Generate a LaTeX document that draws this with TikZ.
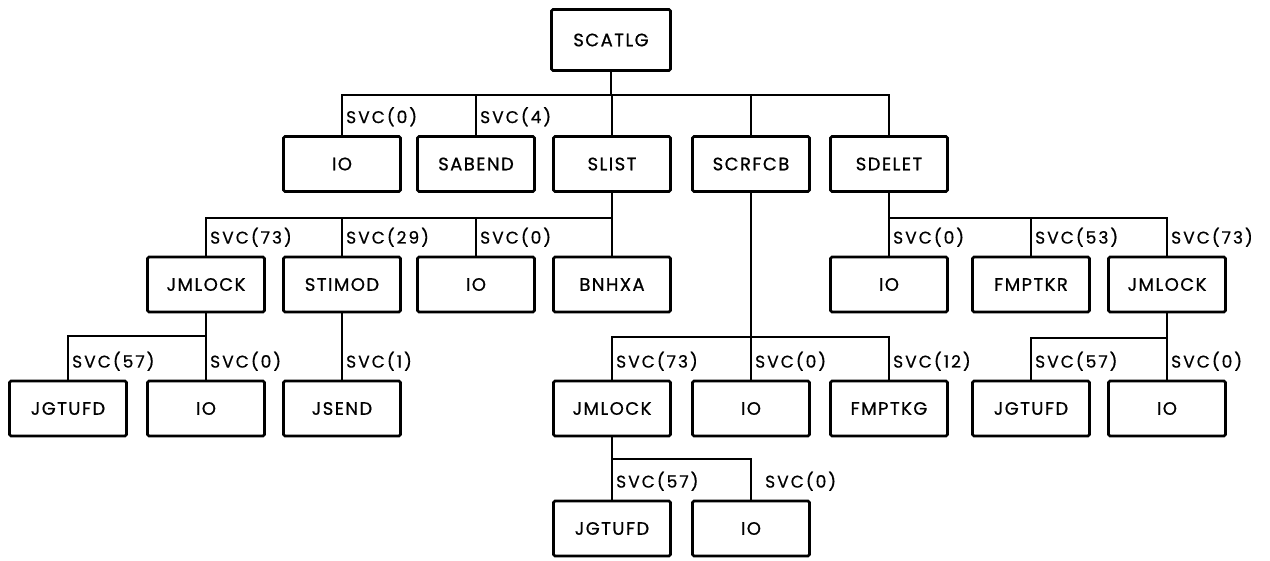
\documentclass[tikz,border=0pt]{standalone}
\usepackage{fontspec}
\newfontfamily\diagfont[LetterSpace=8,FakeBold=0.8]{Poppins}
\newfontfamily\labfont[LetterSpace=12,FakeBold=0.6]{Poppins}
\begin{document}
\begin{tikzpicture}[x=1pt,y=-1pt,
  box/.style={draw, line width=2.8pt, rounded corners=1.5pt, minimum width=117pt, minimum height=55pt, inner sep=0pt, font=\diagfont\fontsize{18}{20}\selectfont},
  link/.style={line width=1.3pt},
  svc/.style={anchor=base west, inner sep=0pt, xshift=4pt, yshift=12pt, font=\labfont\fontsize{17}{19}\selectfont}]
\useasboundingbox (0,0) rectangle (1270,561);
% level 0
\node[box, minimum width=119pt, minimum height=61pt] (scatlg) at (611,40) {SCATLG};
% level 1
\node[box] (io1)    at (342,164) {IO};
\node[box] (sabend) at (476,164) {SABEND};
\node[box] (slist)  at (612,164) {SLIST};
\node[box] (scrfcb) at (751,164) {SCRFCB};
\node[box] (sdelet) at (889,164) {SDELET};
% level 2
\node[box] (jm2a)   at (206,284.5) {JMLOCK};
\node[box] (stimod) at (342,284.5) {STIMOD};
\node[box] (io2a)   at (476,284.5) {IO};
\node[box] (bnhxa)  at (612,284.5) {BNHXA};
\node[box] (io2b)   at (889,284.5) {IO};
\node[box] (fmptkr) at (1031,284.5) {FMPTKR};
\node[box] (jm2b)   at (1167,284.5) {JMLOCK};
% level 3
\node[box] (jg3a)   at (68,408.5) {JGTUFD};
\node[box] (io3a)   at (206,408.5) {IO};
\node[box] (jsend)  at (342,408.5) {JSEND};
\node[box] (jm3)    at (612,408.5) {JMLOCK};
\node[box] (io3b)   at (751,408.5) {IO};
\node[box] (fmptkg) at (889,408.5) {FMPTKG};
\node[box] (jg3b)   at (1031,408.5) {JGTUFD};
\node[box] (io3c)   at (1167,408.5) {IO};
% level 4
\node[box] (jg4)    at (612,528.5) {JGTUFD};
\node[box] (io4)    at (751,528.5) {IO};

% connectors
\foreach \c in {io1,sabend,slist,scrfcb,sdelet}
  \draw[link] (scatlg.south) -- (scatlg.south |- 0,95) -| (\c.north);
\foreach \c in {jm2a,stimod,io2a,bnhxa}
  \draw[link] (slist.south) -- (slist.south |- 0,218) -| (\c.north);
\foreach \c in {io2b,fmptkr,jm2b}
  \draw[link] (sdelet.south) -- (sdelet.south |- 0,218) -| (\c.north);
\foreach \c in {jg3a,io3a}
  \draw[link] (jm2a.south) -- (jm2a.south |- 0,336) -| (\c.north);
\draw[link] (stimod.south) -- (jsend.north);
\foreach \c in {jm3,io3b,fmptkg}
  \draw[link] (scrfcb.south) -- (scrfcb.south |- 0,337) -| (\c.north);
\foreach \c in {jg3b,io3c}
  \draw[link] (jm2b.south) -- (jm2b.south |- 0,338) -| (\c.north);
\foreach \c in {jg4,io4}
  \draw[link] (jm3.south) -- (jm3.south |- 0,459) -| (\c.north);

% labels
\node[svc] (l1) at (io1.north) {SVC(0)};
\node[svc] (l2) at (sabend.north) {SVC(4)};
\node[svc] (l3) at (jm2a.north) {SVC(73)};
\node[svc] (l4) at (stimod.north) {SVC(29)};
\node[svc] (l5) at (io2a.north) {SVC(0)};
\node[svc] (l6) at (io2b.north) {SVC(0)};
\node[svc] (l7) at (fmptkr.north) {SVC(53)};
\node[svc] (l8) at (jm2b.north) {SVC(73)};
\node[svc] (l9) at (jg3a.north) {SVC(57)};
\node[svc] (l10) at (io3a.north) {SVC(0)};
\node[svc] (l11) at (jsend.north) {SVC(1)};
\node[svc] (l12) at (jm3.north) {SVC(73)};
\node[svc] (l13) at (io3b.north) {SVC(0)};
\node[svc] (l14) at (fmptkg.north) {SVC(12)};
\node[svc] (l15) at (jg3b.north) {SVC(57)};
\node[svc] (l16) at (io3c.north) {SVC(0)};
\node[svc] (l17) at (jg4.north) {SVC(57)};
\node[svc, xshift=10pt] (l18) at (io4.north) {SVC(0)};
\end{tikzpicture}
\end{document}
